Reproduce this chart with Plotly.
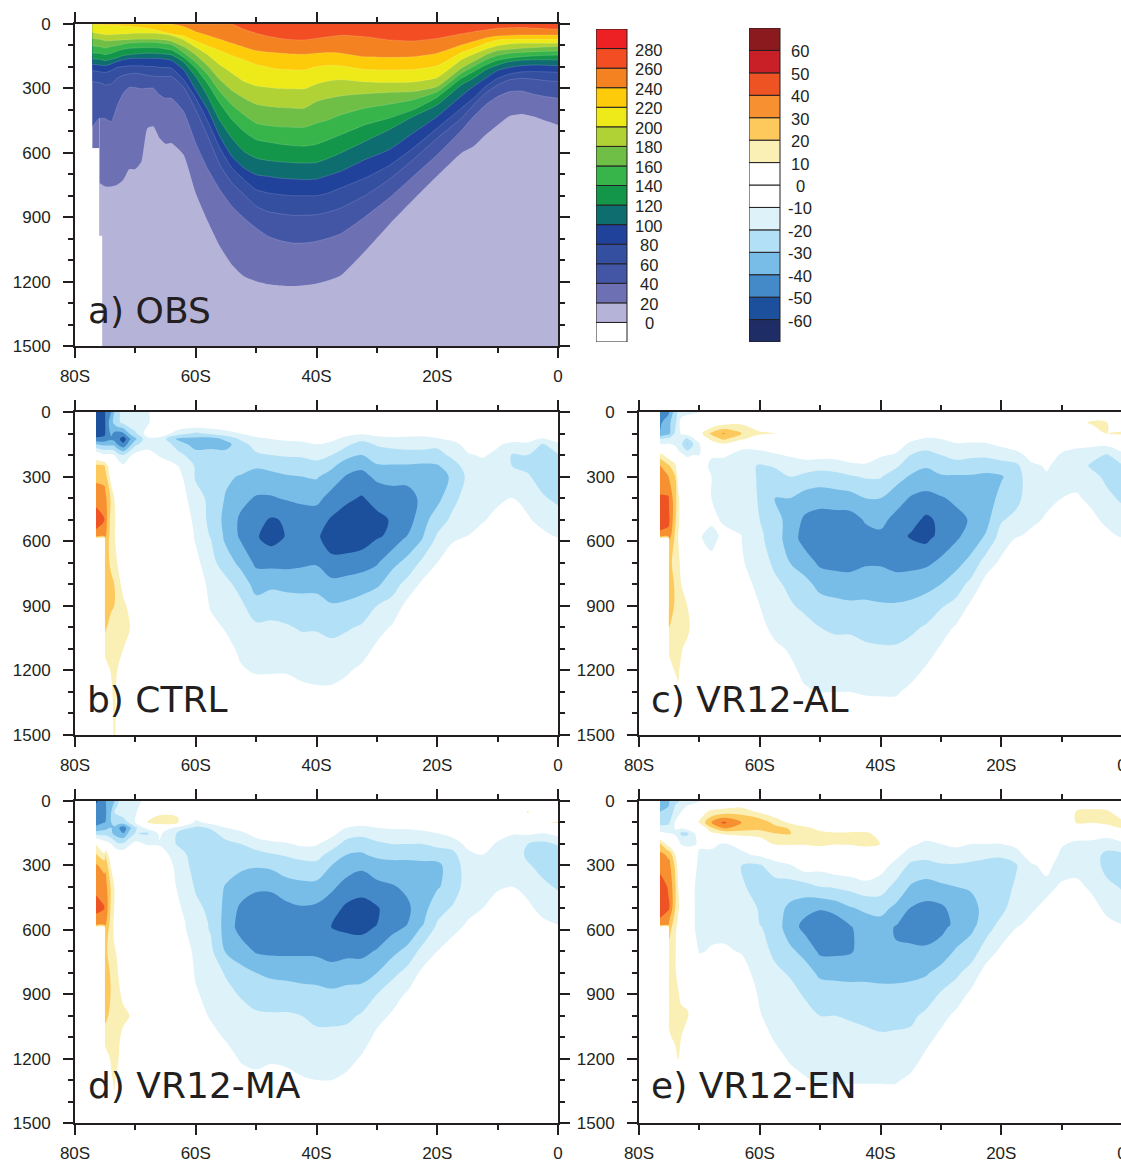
import plotly.graph_objects as go

W, H = 1160, 1161

# ---------- OBS panel: depth (m) of each contour level at each latitude ----------
OBS_LAT = [-77.1,-76,-75.9,-75,-74,-73,-72,-71,-70,-69,-68,-67,-66,-65,-64,-62,-60,-58,-56,-54,-52,-50,-48,-46,-44,-42,-40,-38,-36,-32,-28,-24,-20,-16,-14,-12,-10,-8,-6,-4,-2,0]
OBS_BASE_LAT = [-77.1,-76,-76,-75.5,-75.5,0]
OBS_BASE_DEPTH = [578,578,986,986,1500,1500]
OBS_20 = [578,578,741,757,757,749,726,676,676,641,485,477,531,558,555,609,787,919,1035,1121,1175,1198,1212,1218,1221,1217,1209,1194,1172,1059,935,819,707,601,570,516,470,428,419,431,451,470]
OBS_40 = [477,439,439,440,455,381,322,295,296,302,299,299,330,346,346,408,555,676,772,849,904,950,989,1009,1020,1020,1012,997,977,899,811,710,609,496,431,377,338,315,312,327,338,346]
OBS_60 = [268,273,273,284,279,253,239,233,229,233,239,243,245,245,245,295,400,524,656,741,795,849,874,884,891,891,888,876,857,800,725,632,532,439,377,322,284,260,253,257,264,268]
OBS_80 = [217,222,222,226,217,202,198,195,195,195,198,198,202,203,206,260,346,454,578,671,725,772,787,795,800,800,800,787,764,718,660,578,485,392,346,291,253,233,223,222,223,225]
OBS_100 = [188,191,191,194,186,175,167,161,160,160,160,160,161,164,170,214,307,400,524,617,671,702,710,718,722,725,722,705,686,632,586,508,431,335,291,253,217,202,194,191,192,194]
OBS_120 = [163,164,164,171,164,157,147,143,140,138,136,136,138,141,144,178,245,338,450,532,594,625,636,642,646,648,645,625,601,547,493,431,377,284,253,214,191,175,169,167,167,167]
OBS_140 = [136,136,136,143,136,126,118,113,112,110,110,110,112,116,121,155,206,279,369,446,501,539,550,560,566,569,560,539,516,470,439,400,341,253,222,191,169,158,152,149,146,144]
OBS_160 = [102,105,105,112,105,99,93,88,87,85,85,85,88,91,96,133,178,236,315,377,423,462,473,479,481,481,462,446,423,392,374,353,315,229,198,167,146,136,132,129,127,126]
OBS_180 = [67,71,71,78,78,76,74,73,71,71,71,71,73,74,81,105,144,195,260,310,346,374,384,389,392,392,361,346,335,325,319,315,291,206,175,144,124,118,113,110,107,105]
OBS_200 = [40,45,45,50,50,48,47,45,43,43,43,43,45,48,54,74,108,144,191,229,268,288,296,301,302,302,279,265,260,270,273,270,250,167,141,118,101,93,90,90,90,90]
OBS_220 = [4,4,4,6,7,7,9,11,14,16,20,25,31,40,46,56,79,102,124,147,167,189,201,211,214,214,198,192,195,212,214,212,195,133,113,90,74,71,70,70,71,71]
OBS_240 = [0,0,0,0,0,0,0,0,0,0,0,0,0,0,0,12,36,53,71,90,108,124,132,136,140,141,136,133,136,153,155,153,136,98,82,65,56,53,51,51,51,51]
OBS_260 = [0,0,0,0,0,0,0,0,0,0,0,0,0,0,0,0,0,0,0,0,25,43,57,67,73,74,67,59,53,59,74,79,67,46,36,28,20,17,16,19,22,23]
OBS_LEVELS = [OBS_20,OBS_40,OBS_60,OBS_80,OBS_100,OBS_120,OBS_140,OBS_160,OBS_180,OBS_200,OBS_220,OBS_240,OBS_260]

CB1_COLORS = ["#ffffff","#b6b3d9","#6e70b4","#4355a5","#344ea0","#21429b","#0e6d6f","#14964a","#38b54a","#6fbe45","#b0d235","#eeea1a","#fecb0a","#f58220","#f34e23","#ed2024"]
CB1_LABELS = [0,20,40,60,80,100,120,140,160,180,200,220,240,260,280]
CB2_COLORS = ["#1f2d66","#1c4f9c","#4489c8","#78bde8","#b2e0f6","#def2fa","#ffffff","#ffffff","#faefb4","#fec95c","#f79030","#ee5324","#c92027","#8b1a1e"]
CB2_LABELS = [-60,-50,-40,-30,-20,-10,0,10,20,30,40,50,60]

# ---------- anomaly panels: one list per latitude, values top-down over DEPTHS (omitted tail = 0) ----------
DEPTHS = [0,50,100,125,150,200,250,300,400,500,575,590,700,800,900,1000,1100,1200,1300,1400,1500]
LATS = [-76.522,-75.1,-75,-74,-73.5,-73,-72,-71,-70,-68,-66,-63,-60,-57.5,-55,-52.5,-50,-47.5,-45,-42.5,-40,-37.5,-35,-32.5,-30,-27.5,-25,-22.5,-20,-17.5,-15,-12.5,-10,-7.5,-5,-2.5,0]

CTRL = [
[-58,-58,-57,-47,-30,0,22,27,37,44,37,0],
[-52,-52,-52,-47,-33,-8,20,26,35,40,32,0],
[-50,-50,-50,-46,-33,-8,18,25,33,36,32,28,25,27,27,22,13,5],
[-40,-33,-38,-42,-33,-8,0,5,18,15,15,15,18,22,22,15,13,11,8,5,3],
[-30,-28,-42,-44,-33,-10,0,3,10,12,11,11,16,20,20,18,16,14,13,13,12],
[-25,-22,-44,-46,-40,-15,-1,0,4,6,7,7,10,14,16,16,14,10,7,6,6],
[-15,-18,-42,-55,-48,-20,-8,0,0,0,0,0,3,7,12,14,10,5],
[-14,-12,-30,-42,-35,-12,-3,0,0,0,0,0,0,2,8,11,6],
[-12,-11,-22,-32,-22,-7],
[-12,-12,-5,-13,-15,-5],
[0,0,-3,-13,-12,-11,-5],
[0,0,-15,-32,-24,-17,-10,-6,-2],
[0,0,-22,-33,-35,-25,-21,-21,-17,-13,-11,-11,-7,-4,-2],
[0,0,-18,-34,-33,-26,-24,-23,-22,-23,-21,-20,-17,-13,-11,-7,-3],
[0,0,-14,-28,-33,-27,-26,-28,-31,-33,-32,-32,-25,-17,-13,-11,-7,-3],
[0,0,-10,-18,-25,-21,-25,-31,-37,-42,-42,-41,-33,-24,-18,-14,-12,-9,-3],
[0,0,-6,-12,-15,-22,-29,-33,-41,-47,-49,-49,-42,-34,-26,-18,-15,-11,-5,-2],
[0,0,-4,-10,-13,-20,-27,-33,-41,-51,-54,-53,-43,-32,-24,-18,-15,-11,-5,-1],
[0,0,-4,-9,-12,-19,-25,-31,-39,-49,-49.5,-49,-43,-33,-25,-19,-15,-11,-5,-1],
[0,0,-3,-8,-12,-19,-24,-30,-38,-45,-47,-47,-42,-33,-26,-21,-16,-12,-8,-3],
[0,0,-1,-6,-10,-17,-23,-29,-37,-46,-48,-48,-41,-33,-26,-21,-16,-12,-9,-4],
[0,-1,-3,-8,-12,-20,-28,-34,-44,-51,-56,-55,-47,-37,-29,-23,-17,-12,-9,-4],
[0,-1,-7,-13,-18,-27,-35,-41,-48,-55,-57,-56,-46,-36,-28,-21,-16,-11,-7,-3],
[0,-2,-9,-17,-24,-30,-38,-43,-51,-57,-56,-55,-44,-35,-25,-19,-14,-8,-4],
[0,-1,-7,-13,-19,-25,-31,-38,-46,-53,-52,-50,-41,-32,-20,-14,-8,-3],
[0,-1,-6,-12,-18,-23,-31,-37,-44,-49,-47,-46,-33,-24,-17,-9,-4],
[0,-1,-7,-12,-17,-23,-31,-37,-44,-45,-40,-38,-27,-17,-7,-2],
[0,0,-8,-12,-17,-23,-32,-37,-38,-34,-31,-30,-18,-8,-3],
[0,0,-5,-11,-18,-23,-31,-33,-33,-25,-19,-18,-10,-4],
[0,0,-2,-8,-13,-18,-24,-29,-23,-18,-12,-11,-5],
[0,0,0,-2,-7,-11,-16,-18,-16,-12,-10,-9,-3],
[0,0,0,0,-2,-9,-13,-14,-13,-11,-6,-5],
[0,0,0,-4,-9,-12,-13,-13,-12,-7,-3,-2],
[0,0,-1,-7,-12,-21,-20.5,-14,-10,-6,-3,-2],
[0,0,-2,-8,-11,-20,-22,-19,-13,-9,-6,-5],
[0,0,-3,-11,-21,-25,-26,-24,-19,-13,-8,-7,-1],
[0,0,0,-6,-12,-21,-25,-25,-22,-16,-11,-9,-3],
]

VR12_AL = [
[-47,-42,-40,-20,-10,15,31,35,41,46,37,0],
[-42,-33,-33,-17,-9,3,22,30,41,43,36,0],
[-40,-32,-32,-17,-9,3,21,29,38,41,35,30,24,28,28,20,12,5],
[-25,-22,-18,-10,-12,0,12,20,24,22,18,18,15,18,18,15,13,11,3],
[-18,-15,-13,-14,-16,-5,0,5,12,12,10,10,13,15,17,17,13,11,9],
[-15,-5,-9,-17,-18,-8,0,0,5,6,5,5,7,10,14,15,11,8,6],
[-13,-2,-5,-22,-31,-12,-1,0,0,0,0,0,0,2,10,14,6],
[-12,0,0,-12,-20,-10,-1,0,0,0,0,0,0,0,0,4],
[-11,0,6,-2,-11,-10,-5,-3,-1,-4,-9,-9,-3],
[0,0,22,13,3,-9,-12,-10,-10,-8,-13,-13,-7],
[0,5,31,22,8,-9,-13,-13,-12,-11,-8,-7,-3],
[0,8,20,12,-8,-12,-16,-16,-14,-12,-10,-10,-9,-7,-4],
[0,2,12,2,-5,-14,-21,-21,-21,-20,-18,-18,-15,-12,-10,-7,-3],
[0,0,11,0,-4,-11,-19,-24,-30,-27,-25,-25,-22,-18,-16,-13,-8,-3],
[0,0,0,0,-3,-9,-15,-20,-30,-33,-35,-35,-30,-22,-19,-15,-11,-8,-3],
[0,0,0,0,-1,-7,-14,-23,-34,-42,-44,-44,-35,-27,-22,-17,-14,-12,-9,-3],
[0,0,0,0,0,-6,-17,-24,-36,-44,-47,-47,-42,-33,-26,-20,-17,-14,-10,-4],
[0,0,0,0,0,-6,-16,-23,-35,-44,-47,-47,-43,-35,-27,-21,-18,-15,-10,-4],
[0,0,0,0,0,-3,-13,-21,-34,-44,-47,-47,-43,-36,-28,-21,-18,-15,-10,-4],
[0,0,0,0,0,-3,-12,-19,-30,-39,-43,-43,-41,-35,-28,-22,-19,-15,-11,-5],
[0,0,0,-2,-5,-9,-14,-19,-30,-37,-42,-42,-41,-35,-29,-24,-19,-15,-11,-6],
[0,0,0,-1,-5,-11,-18,-26,-35,-43,-46,-46,-43,-36,-29,-24,-19,-15,-11,-6],
[0,0,-2,-8,-12,-20,-26,-31,-41,-46,-51,-50,-43,-35,-28,-22,-17,-13,-8,-4],
[0,-1,-6,-11,-16,-23,-29,-34,-43,-52,-54,-52,-42,-33,-26,-19,-14,-9,-4],
[0,0,-5,-10,-13,-20,-26,-31,-41,-48,-47,-46,-38,-30,-21,-14,-9,-4],
[0,0,-3,-7,-11,-17,-24,-31,-38,-43,-42,-41,-33,-25,-17,-9,-4],
[0,0,-3,-8,-11,-18,-25,-31,-36,-39,-36,-35,-27,-17,-8,-3],
[0,0,-3,-7,-11,-18,-26,-32,-35,-33,-29,-28,-15,-6,-1],
[0,0,0,-3,-8,-16,-24,-31,-27,-21,-16,-15,-8,-2],
[0,0,0,0,-4,-14,-22,-24,-23,-17,-11,-9,-3],
[0,0,0,0,0,-6,-12,-14,-14,-12,-8,-7],
[0,0,0,0,0,-2,-9,-11,-12,-9,-5,-4],
[0,0,0,0,-4,-12,-13,-13,-10,-6,-2],
[0,5,0,0,-8,-13,-14,-13,-9,-5,-2],
[0,12,0,-3,-8,-16,-22,-16,-12,-8,-5,-4],
[0,10.5,10,3,-8,-21,-25,-23,-17,-12,-8,-7,-1],
[0,0,12,2,-2,-13,-21,-24,-22,-15,-11,-9,-3],
]

VR12_MA = [
[-52,-45,-43,-38,-25,9,21,31,38,43,34,0],
[-42,-42,-40,-34,-24,-4,12,27,35,40,33,0],
[-41,-42,-40,-34,-24,-4,20,28,35,39,32,28,22,27,28,24,13,6],
[-30,-30,-30,-30,-28,-10,1,8,18,17,15,15,16,18,19,16,12,11,9,2],
[-31,-20,-25,-32,-33,-14,-1,2,10,10,8,8,11,14,17,17,15,13,11,9],
[-22,-18,-25,-37,-36,-18,-2,0,5,6,5,5,9,11,14,15,13,12,8],
[-14,-14,-25,-46,-40,-18,-3,0,0,0,0,0,0,3,7,13,7,3],
[-12,-12,-18,-33,-27,-12,0,0,0,0,0,0,0,0,3,10,2],
[-11,-11,-10,-22,-19.5,-7],
[-9,-3,11,-6,-21.5,-11,-2],
[0,8,14,0,-8,-11,-5,-1],
[0,9,11,-14,-21,-21,-15,-13,-11,-8,-6,-6,-3],
[0,0,-13,-22,-23,-25,-25,-24,-21,-18,-15,-15,-12,-11,-9,-6,-3],
[0,0,-6,-19,-22,-24,-23,-23,-23,-22,-21,-21,-18,-15,-13,-11,-7,-3],
[0,0,-3,-10,-17,-22,-24,-24,-31,-33,-34,-34,-31,-21,-17,-14,-11,-6,-2],
[0,0,-2,-5,-13,-20,-23,-28,-35,-42,-44,-44,-35,-27,-21,-16,-13,-11,-6,-2],
[0,0,0,-2,-5,-16,-23,-29,-38,-46,-48,-48,-41,-30,-23,-19,-16,-13,-7,-3],
[0,0,0,0,-4,-12,-21,-28,-38,-46,-48,-48,-42,-32,-25,-19,-15,-11,-7,-3],
[0,0,0,0,-2,-11,-19,-25,-34,-43,-47,-47,-42,-33,-25,-19,-15,-12,-7,-3],
[0,0,0,0,0,-8,-17,-23,-33,-41,-45,-45,-42,-33,-27,-20,-17,-14,-9,-4],
[0,0,0,0,-1,-9,-16,-23,-33,-42,-46,-46,-42,-34,-27,-22,-18,-14,-10,-5],
[0,0,0,-2,-7,-15,-24,-30,-38,-46,-50,-50,-44,-36,-28,-22,-18,-14,-10,-5],
[0,0,-5,-10,-15,-24,-30,-35,-44,-52,-52,-52,-43,-34,-27,-22,-17,-13,-8,-4],
[0,-1,-7,-12,-17,-26,-31,-38,-46,-54,-54,-53,-43,-34,-26,-19,-14,-9,-4],
[0,-1,-5,-10,-14,-22,-28,-34,-43,-51,-50,-49,-39,-30,-20,-13,-8,-3],
[0,0,-4,-9,-13,-20,-27,-33,-41,-45,-44,-43,-33,-23,-14,-9,-4],
[0,0,-3,-9,-13,-20,-27,-33,-38,-42,-40,-39,-27,-17,-9,-3],
[0,0,-2,-8,-12,-20,-27,-32,-35,-34,-31,-29,-17,-8,-2],
[0,0,0,-3,-10,-17,-26,-32,-31,-24,-19,-18,-10,-4],
[0,0,0,0,-6,-16,-23,-26,-26,-19,-14,-13,-5],
[0,0,0,0,0,-7,-13,-15,-15,-13,-9,-8],
[0,0,0,0,0,-3,-10,-12,-13,-10,-5,-4],
[0,0,0,0,-4,-12,-13,-13,-11,-6,-2],
[0,0,0,-3,-9,-15,-14,-13,-10,-5,-2],
[0,11,0,-2,-8,-20,-22,-19,-13,-8,-5,-4],
[0,0,9,-5,-10,-23,-26,-23,-18,-13,-8,-7,-1],
[0,0,11,0,-6,-19,-24,-25,-21,-15,-10,-9,-3],
]

VR12_EN = [
[-35,-30,-24,-16,-8,22,33,37,45,46,36,0],
[-32,-28,-22,-17,-10,5,28,33,39,41,33,0],
[-30,-26,-21,-17,-10,5,28,33,38,41,27,25,15,20,20,14,8,3],
[-22,-17,-9,-9,-12,-1,10,18,22,20,14,12,11,11,14,15,13,5],
[-21,-13,-6,-8,-15,-6,0,4,10,11,8,7,5,7,11,14,14,11],
[-19,-10,-6,-9,-22,-11,0,0,4,7,6,6,4,5,7,13,10,3],
[-15,-3,9,-3,-22,-13,0,0,0,0,0,0,0,0,6,11.5,3],
[-13,-1,5,0,-12,-11,-6,-7,-9,-9,-9,-9,-3,0,0,3],
[-10.5,6,11,0,-3,-9,-11,-12,-13,-13,-13,-13,-11,-1],
[0,12,30,19,8,-8,-12,-13,-15,-14,-13,-13,-9,-1],
[0,14,42,32,12,-11,-13,-13,-15,-14,-12,-12,-9,-3],
[0,16,30,26,15,-7,-12,-20,-19,-14,-12,-12,-10.5,-7,-4,-1],
[0,8,27,24,15,2,-8,-21,-23,-21,-20,-19,-16,-13,-11,-9.5,-6,-3],
[0,2,17,23,20,11,-3,-15,-24,-26,-25,-25,-22,-18,-15,-13,-11,-7,-3],
[0,0,8,19,21,11,0,-11,-25,-32,-35,-35,-28,-21,-17,-14,-12,-11,-7,-3],
[0,0,2,12,13,11,0,-4,-24,-36,-43,-43,-33,-26,-21,-17,-14,-12,-9.5,-4],
[0,0,0,7,12,12,2,-6,-20,-39,-47,-47,-42,-32,-25,-20,-17,-14,-11,-5],
[0,0,0,3,11,10.5,0,-3,-19,-36,-46,-47,-42,-33,-25,-20,-17,-14,-11,-5],
[0,0,0,2,12,11,0,-2,-17,-31,-39.5,-41,-41,-33,-26,-21,-17,-14,-11,-5],
[0,0,0,0,12,13,0,0,-14,-28,-35,-35,-36,-33,-26,-22,-18,-15,-11,-5],
[0,0,0,0,6,9.9,-1,-6,-15,-27,-33,-34,-35,-33,-27,-23,-19,-15,-11,-5],
[0,0,0,0,0,-1,-7,-13,-23,-32,-39.5,-41,-39,-33,-27,-22,-19,-15,-11,-5],
[0,0,0,0,-2,-8,-15,-22,-31,-40.5,-44,-44,-38,-32,-27,-22,-18,-14,-8,-3],
[0,0,0,0,-5,-12,-17,-23,-34,-43,-46,-46,-38,-31,-25,-18,-13,-8,-3],
[0,0,0,0,-2,-10,-15,-21,-32,-42,-45,-43,-35,-27,-19,-13,-8,-3],
[0,0,0,0,0,-8,-14,-21,-30,-36,-37,-36,-29,-22,-15,-8,-3],
[0,0,0,0,-2,-10,-16,-22,-29,-33,-33,-32,-25,-16,-8,-2],
[0,0,0,0,-1,-10,-18,-23,-27,-27,-25,-24,-15,-6,-1],
[0,0,0,0,-1,-10,-18,-25,-26,-23,-17,-16,-8,-2],
[0,0,0,0,0,-8,-13,-21,-18,-14,-11,-10,-4],
[0,0,0,0,0,-1,-6,-11,-13,-11,-8,-7],
[0,0,0,0,0,0,-3,-8,-12,-8,-4,-3],
[0,0,0,0,0,-9,-12,-13,-9,-5,-2],
[0,11,11,0,-5,-12,-14,-13,-8,-4,-1],
[0,13,10.5,0,-6,-12,-15,-14,-11.5,-7,-4,-3],
[0,12,13,5,-6,-15,-23,-24,-17,-12,-8,-7,-1],
[0,3,12,11,-1,-12,-22,-24,-21,-15,-10,-9,-3],
]

X_TICKS = [-80,-60,-40,-20,0]
X_LABELS = ["80S","60S","40S","20S","0"]
X_MINOR = [-70,-50,-30,-10]
Y_TICKS = [0,300,600,900,1200,1500]
Y_MINOR = [100,200,400,500,700,800,1000,1100,1300,1400]

PANELS = [
    ("a) OBS",     75, 558,  24, 346, None,    86, 310),
    ("b) CTRL",    75, 558, 412, 735, CTRL,    85, 699),
    ("c) VR12-AL", 639,1122, 412, 735, VR12_AL, 649, 699),
    ("d) VR12-MA", 75, 558, 801,1123, VR12_MA, 86, 1085),
    ("e) VR12-EN", 639,1122, 801,1123, VR12_EN, 649, 1085),
]
INK = "#231f20"

fig = go.Figure()
layout = {"annotations": []}

def transpose(cols):
    n = len(DEPTHS)
    padded = [list(c) + [0] * (n - len(c)) for c in cols]
    return [[padded[j][i] for j in range(len(cols))] for i in range(n)]

for i, (name, x0, x1, y0, y1, cols, tx, ty) in enumerate(PANELS):
    s = "" if i == 0 else str(i + 1)
    xa, ya = "x" + s, "y" + s
    layout["xaxis" + s] = dict(
        domain=[x0 / W, x1 / W], range=[-80, 0], anchor=ya, tickvals=X_TICKS, ticktext=X_LABELS,
        ticks="outside", ticklen=10, tickwidth=2, tickcolor=INK, showline=True, linewidth=2, linecolor=INK,
        mirror="allticks", showgrid=False, zeroline=False, ticklabelstandoff=4, automargin=False,
        tickfont=dict(family="Liberation Sans", size=17, color=INK),
        minor=dict(tickvals=X_MINOR, ticks="outside", ticklen=5, tickwidth=1.5, tickcolor=INK, showgrid=False),
    )
    layout["yaxis" + s] = dict(
        domain=[1 - y1 / H, 1 - y0 / H], range=[1500, 0], anchor=xa, tickvals=Y_TICKS,
        ticks="outside", ticklen=10, tickwidth=2, tickcolor=INK, showline=True, linewidth=2, linecolor=INK,
        mirror="allticks", showgrid=False, zeroline=False, ticklabelstandoff=9, automargin=False,
        tickfont=dict(family="Liberation Sans", size=17, color=INK),
        minor=dict(tickvals=Y_MINOR, ticks="outside", ticklen=5, tickwidth=1.5, tickcolor=INK, showgrid=False),
    )
    if cols is None:
        fig.add_trace(go.Scatter(x=OBS_BASE_LAT, y=OBS_BASE_DEPTH, mode="lines", fill="tozeroy",
                                 fillcolor=CB1_COLORS[1], line=dict(width=0), xaxis=xa, yaxis=ya,
                                 hoverinfo="skip", showlegend=False))
        # the 20 level steps at the shelf edge: flat part first, then the smooth curve
        fig.add_trace(go.Scatter(x=OBS_LAT[:2], y=OBS_20[:2], mode="lines", fill="tozeroy",
                                 fillcolor=CB1_COLORS[2], line=dict(width=0), xaxis=xa, yaxis=ya,
                                 hoverinfo="skip", showlegend=False))
        for k, depths in enumerate(OBS_LEVELS):
            lat_k, dep_k = (OBS_LAT[2:], depths[2:]) if k == 0 else (OBS_LAT, depths)
            fig.add_trace(go.Scatter(x=lat_k, y=dep_k, mode="lines", fill="tozeroy",
                                     fillcolor=CB1_COLORS[k + 2],
                                     line=dict(width=0.5, shape="spline", smoothing=0.5,
                                               color="rgba(255,255,255,0.3)" if k else "rgba(0,0,0,0)"),
                                     xaxis=xa, yaxis=ya, hoverinfo="skip", showlegend=False))
    else:
        band_colors = ["#ffffff", CB2_COLORS[0], CB2_COLORS[0], CB2_COLORS[0]] + CB2_COLORS
        n = len(band_colors) - 1
        scale = [[j / n, c] for j, c in enumerate(band_colors)]
        fig.add_trace(go.Contour(x=LATS, y=DEPTHS, z=transpose(cols), colorscale=scale, autocontour=False,
                                 contours=dict(start=-100, end=60, size=10, coloring="fill", showlines=False),
                                 line=dict(width=0), showscale=False, hoverinfo="skip", xaxis=xa, yaxis=ya))
    layout["annotations"].append(dict(
        text=name, xref="paper", yref="paper", x=tx / W, y=1 - ty / H, xanchor="left", yanchor="middle",
        showarrow=False, font=dict(family="DejaVu Sans", size=36, color=INK)))

def colorbar(idx, colors, labels, step, lo, px0, py0, py1, lab_dx):
    s = str(idx)
    xa, ya = "x" + s, "y" + s
    hi = lo + step * len(colors)
    pw = 31
    pxw = pw + 60
    layout["xaxis" + s] = dict(domain=[px0 / W, (px0 + pxw) / W], range=[0, pxw / pw], anchor=ya, visible=False, automargin=False)
    layout["yaxis" + s] = dict(domain=[1 - py1 / H, 1 - py0 / H], range=[lo, hi], anchor=xa, visible=False, automargin=False)
    mids = [lo + step * (j + 0.5) for j in range(len(colors))]
    fig.add_trace(go.Bar(y=mids, x=[1] * len(colors), orientation="h", width=step, marker=dict(color=colors, line=dict(color=INK, width=1)),
                         xaxis=xa, yaxis=ya, hoverinfo="skip", showlegend=False))
    for v in labels:
        layout["annotations"].append(dict(
            text=str(v), xref=xa, yref=ya, x=lab_dx / pw, y=v, xanchor="center", yanchor="middle", yshift=-1,
            showarrow=False, font=dict(family="Liberation Sans", size=16.5, color=INK)))

colorbar(6, CB1_COLORS, CB1_LABELS, 20, -20, 596, 29, 342, 53)
colorbar(7, CB2_COLORS, CB2_LABELS, 10, -70, 749, 28, 342, 51)

fig.update_layout(width=W, height=H, margin=dict(l=0, r=0, t=0, b=0, pad=0), paper_bgcolor="white",
                  plot_bgcolor="white", showlegend=False, **layout)
fig.write_html("out.html", post_script="document.body.style.margin='0';document.documentElement.style.overflow='hidden';document.body.style.overflow='hidden';",
               config=dict(displayModeBar=False))
